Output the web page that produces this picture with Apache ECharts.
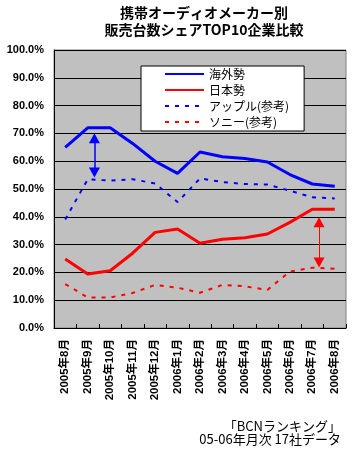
<!DOCTYPE html>
<html>
<head>
<meta charset="utf-8">
<title>携帯オーディオメーカー別 販売台数シェア</title>
<script src="https://cdn.jsdelivr.net/npm/echarts@6/dist/echarts.min.js"></script>
<style>
html, body { margin: 0; padding: 0; background: #fff; }
#main { width: 352px; height: 451px; }
</style>
</head>
<body>
<div id="main"></div>
<script type="text/javascript">
// 月
var months = ['2005年8月', '2005年9月', '2005年10月', '2005年11月', '2005年12月', '2006年1月',
	'2006年2月', '2006年3月', '2006年4月', '2006年5月', '2006年6月', '2006年7月', '2006年8月'];
// シェア(%)
var kaigai = [65, 72, 72, 66.4, 60, 55.6, 63.3, 61.6, 61, 59.7, 55.2, 51.8, 51];
var nihon = [24.8, 19.4, 20.6, 26.9, 34.4, 35.6, 30.5, 31.9, 32.5, 33.8, 38, 42.7, 42.7];
var apple = [39, 53.5, 53, 53.5, 52, 45.3, 53.8, 52.5, 51.8, 51.6, 49.4, 47, 46.6];
var sony = [15.8, 11, 11, 12.6, 15.5, 14.5, 12.7, 15.5, 15, 13.7, 20.3, 21.7, 21.3];
// 矢印 [x位置(月インデックス), 上端, 下端]
var arrowBlue = [1.3, 68.3, 55.9];
var arrowRed = [11.3, 38, 23.6];

var chart = echarts.init(document.getElementById('main'));
var jp = "'Noto Sans CJK JP', sans-serif";
var num = "'Liberation Sans', 'Noto Sans CJK JP', sans-serif";

function arrowLine(a, color, width) {
	return {
		silent: true,
		symbol: ['triangle', 'triangle'],
		symbolSize: [11, 10],
		label: { show: false },
		lineStyle: { color: color, width: width, type: 'solid' },
		data: [[{ coord: [a[0], a[1]] }, { coord: [a[0], a[2]] }]]
	};
}

var option = {
	animation: false,
	backgroundColor: '#ffffff',
	grid: {
		left: 54, right: 6, top: 50, bottom: 123,
		show: true,
		backgroundColor: '#c0c0c0',
		borderColor: '#808080',
		borderWidth: 1
	},
	legend: {
		orient: 'vertical',
		left: 141,
		top: 66,
		padding: [2, 15, 3, 23],
		itemWidth: 39,
		itemHeight: 12,
		itemGap: 4,
		backgroundColor: '#ffffff',
		borderColor: '#000000',
		borderWidth: 1,
		borderRadius: 0,
		itemStyle: { opacity: 0 },
		textStyle: { fontFamily: jp, fontSize: 12, color: '#000' },
		data: ['海外勢', '日本勢', 'アップル(参考)', 'ソニー(参考)']
	},
	xAxis: [{
		type: 'category',
		data: months,
		boundaryGap: true,
		axisLine: { lineStyle: { color: '#000', width: 1 } },
		axisTick: { show: true, inside: true, length: 4, lineStyle: { color: '#000' } },
		axisLabel: {
			rotate: 90,
			margin: 11,
			interval: 0,
			fontFamily: num,
			fontWeight: 'bold',
			fontSize: 11.5,
			color: '#000'
		},
		splitLine: { show: false }
	}, {
		// 矢印用の補助軸
		type: 'value',
		min: -0.5,
		max: 12.5,
		show: false
	}],
	yAxis: {
		type: 'value',
		min: 0,
		max: 100,
		interval: 10,
		axisLine: { show: true, onZero: false, lineStyle: { color: '#000', width: 1 } },
		axisTick: { show: false },
		axisLabel: {
			margin: 10,
			fontFamily: num,
			fontWeight: 'bold',
			fontSize: 11,
			color: '#000',
			formatter: function (v) { return v.toFixed(1) + '%'; }
		},
		splitLine: { show: true, lineStyle: { color: '#000', width: 1 } }
	},
	graphic: [{
		type: 'text',
		x: 204, y: 4,
		style: {
			text: '携帯オーディオメーカー別\n販売台数シェアTOP10企業比較',
			align: 'center',
			fontFamily: jp,
			fontWeight: 'bold',
			fontSize: 14,
			lineHeight: 17,
			fill: '#000'
		}
	}, {
		type: 'text',
		x: 341, y: 420,
		style: {
			text: '「BCNランキング」\n05-06年月次 17社データ',
			align: 'right',
			fontFamily: jp,
			fontSize: 13,
			lineHeight: 12.5,
			fill: '#000'
		}
	}],
	series: [{
		name: '海外勢',
		type: 'line',
		data: kaigai,
		symbol: 'none',
		lineStyle: { color: '#0000ff', width: 3 },
		itemStyle: { color: '#0000ff' }
	}, {
		name: '日本勢',
		type: 'line',
		data: nihon,
		symbol: 'none',
		lineStyle: { color: '#ff0000', width: 3 },
		itemStyle: { color: '#ff0000' }
	}, {
		name: 'アップル(参考)',
		type: 'line',
		data: apple,
		symbol: 'none',
		lineStyle: { color: '#0000ff', width: 2, type: [4, 6] },
		itemStyle: { color: '#0000ff' }
	}, {
		name: 'ソニー(参考)',
		type: 'line',
		data: sony,
		symbol: 'none',
		lineStyle: { color: '#ff0000', width: 2, type: [4, 6] },
		itemStyle: { color: '#ff0000' }
	}, {
		name: 'arrowBlue',
		type: 'line',
		xAxisIndex: 1,
		data: [],
		markLine: arrowLine(arrowBlue, '#0000ff', 1.5)
	}, {
		name: 'arrowRed',
		type: 'line',
		xAxisIndex: 1,
		data: [],
		markLine: arrowLine(arrowRed, '#ff0000', 1)
	}]
};
chart.setOption(option);
</script>
</body>
</html>
